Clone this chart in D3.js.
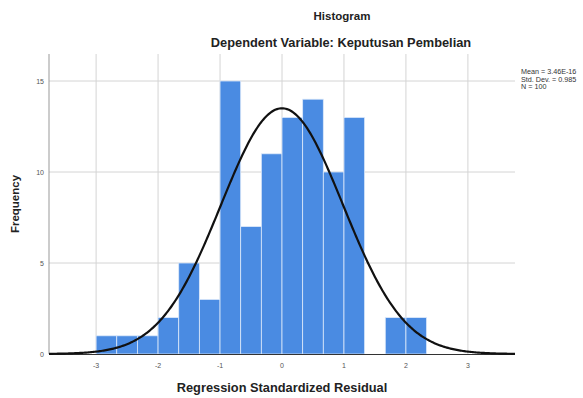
<!DOCTYPE html>
<html>
<head>
<meta charset="utf-8">
<script src="https://cdn.jsdelivr.net/npm/d3@7"></script>
<style>
  body { margin: 0; background: #fff; }
  svg { display: block; font-family: Arial, "Liberation Sans", sans-serif; }
</style>
</head>
<body>
<div id="chart"></div>
<script>
// bins of width 1/3 starting at -3
const binStart = -3;
const binWidth = 1 / 3;
const counts = [1, 1, 1, 2, 5, 3, 15, 7, 11, 13, 14, 10, 13, 0, 2, 2];
const xTicks = [-3, -2, -1, 0, 1, 2, 3];
const yTicks = [0, 5, 10, 15];
const stats = ["Mean = 3.46E-16", "Std. Dev. = 0.985", "N = 100"];
const mean = 0, sd = 0.985, n = 100;

const W = 583, H = 398;
const svg = d3.select('#chart').append('svg')
  .attr('width', W)
  .attr('height', H);

const x = d3.scaleLinear().domain([-3.76, 3.76]).range([49, 515]);
const y = d3.scaleLinear().domain([0, 15]).range([354, 81]);

// grid
svg.append('g').selectAll('line')
  .data(xTicks)
  .enter().append('line')
  .attr('x1', d => x(d)).attr('x2', d => x(d))
  .attr('y1', 54).attr('y2', 354)
  .attr('stroke', '#d4d4d4').attr('stroke-width', 1);

svg.append('g').selectAll('line')
  .data(yTicks.filter(d => d > 0))
  .enter().append('line')
  .attr('x1', 49).attr('x2', 515)
  .attr('y1', d => y(d)).attr('y2', d => y(d))
  .attr('stroke', '#d4d4d4').attr('stroke-width', 1);

// bars
svg.append('g').selectAll('rect')
  .data(counts.map((c, i) => ({ x0: binStart + i * binWidth, c })))
  .enter().append('rect')
  .filter(d => d.c > 0)
  .attr('x', d => x(d.x0))
  .attr('width', d => x(d.x0 + binWidth) - x(d.x0))
  .attr('y', d => y(d.c))
  .attr('height', d => y(0) - y(d.c))
  .attr('fill', '#4a8be2')
  .attr('stroke', '#dde9fa')
  .attr('stroke-width', 0.8);

// axes lines
svg.append('line')
  .attr('x1', 49).attr('x2', 49).attr('y1', 54).attr('y2', 354)
  .attr('stroke', '#999');
svg.append('line')
  .attr('x1', 49).attr('x2', 515).attr('y1', 354.5).attr('y2', 354.5)
  .attr('stroke', '#333').attr('stroke-width', 1.2);

// normal curve
const curveXs = d3.range(-3.76, 3.761, 0.02);
const pdf = v => n * binWidth / (sd * Math.sqrt(2 * Math.PI)) * Math.exp(-0.5 * ((v - mean) / sd) ** 2);
svg.append('path')
  .datum(curveXs)
  .attr('fill', 'none')
  .attr('stroke', '#111')
  .attr('stroke-width', 2.2)
  .attr('d', d3.line().x(d => x(d)).y(d => y(pdf(d))));

// tick labels
svg.append('g').selectAll('text')
  .data(xTicks)
  .enter().append('text')
  .attr('x', d => x(d)).attr('y', 368)
  .attr('text-anchor', 'middle')
  .attr('font-size', 7).attr('fill', '#555')
  .text(d => d);

svg.append('g').selectAll('text')
  .data(yTicks)
  .enter().append('text')
  .attr('x', 44).attr('y', d => y(d) + 2.5)
  .attr('text-anchor', 'end')
  .attr('font-size', 7).attr('fill', '#555')
  .text(d => d);

// titles
svg.append('text')
  .attr('x', 342).attr('y', 20)
  .attr('text-anchor', 'middle')
  .attr('font-size', 11.5).attr('font-weight', 'bold').attr('fill', '#222')
  .text('Histogram');
svg.append('text')
  .attr('x', 341).attr('y', 47)
  .attr('text-anchor', 'middle')
  .attr('font-size', 12.8).attr('font-weight', 'bold').attr('fill', '#222')
  .text('Dependent Variable: Keputusan Pembelian');
svg.append('text')
  .attr('x', 282).attr('y', 392)
  .attr('text-anchor', 'middle')
  .attr('font-size', 12.8).attr('font-weight', 'bold').attr('fill', '#222')
  .text('Regression Standardized Residual');
svg.append('text')
  .attr('transform', 'translate(19,204) rotate(-90)')
  .attr('text-anchor', 'middle')
  .attr('font-size', 11.5).attr('font-weight', 'bold').attr('fill', '#222')
  .text('Frequency');

// stats legend
svg.append('g').selectAll('text')
  .data(stats)
  .enter().append('text')
  .attr('x', 521).attr('y', (d, i) => 74 + i * 7.5)
  .attr('font-size', 7.2).attr('fill', '#333')
  .text(d => d);
</script>
</body>
</html>
